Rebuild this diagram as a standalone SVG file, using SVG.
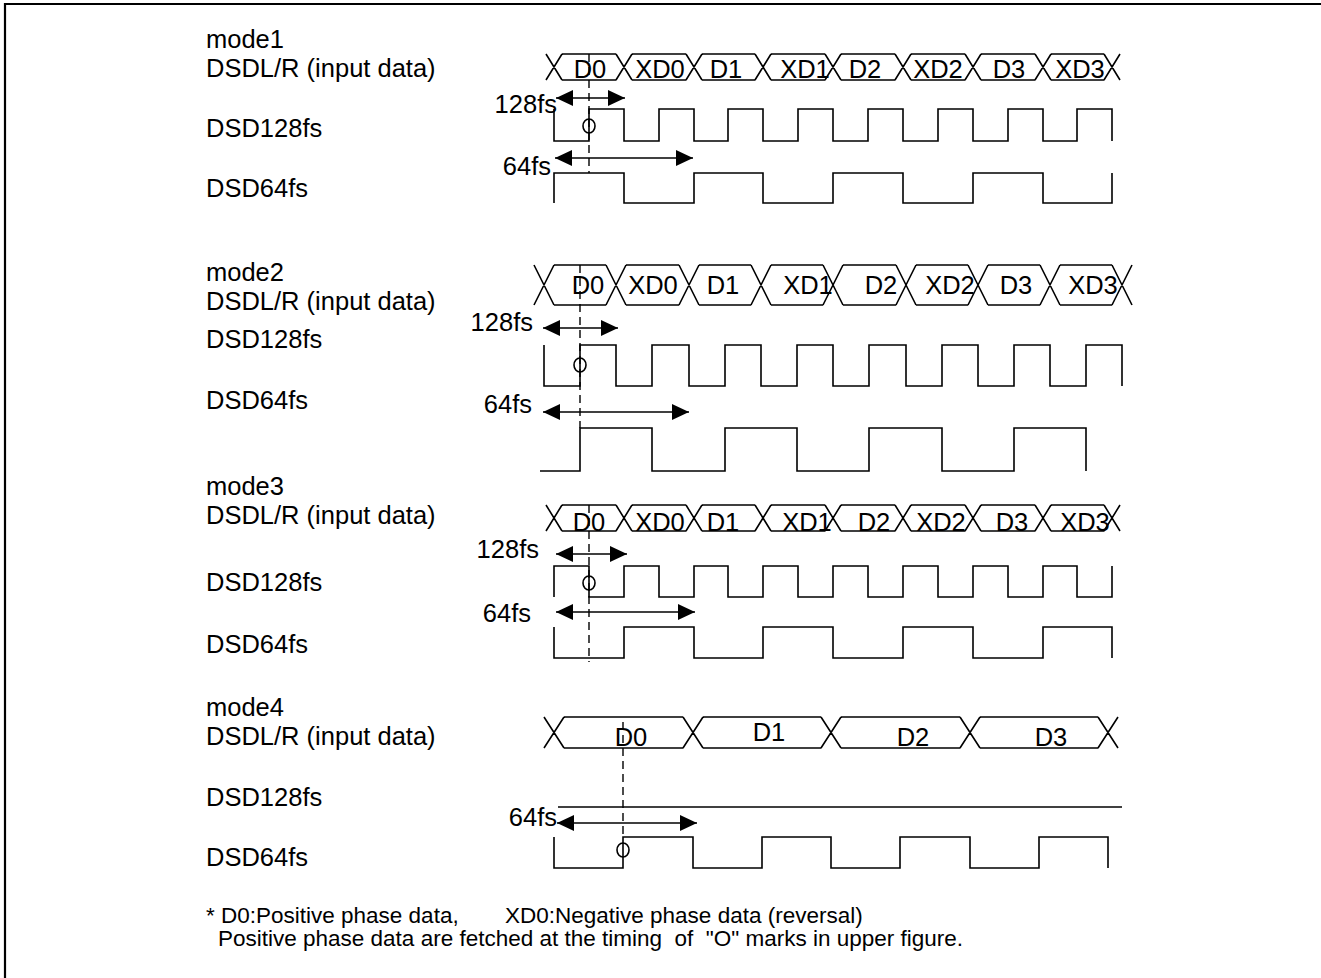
<svg xmlns="http://www.w3.org/2000/svg" width="1321" height="978" viewBox="0 0 1321 978">
<style>
text{font-family:"Liberation Sans",Arial,sans-serif;font-size:25.5px;fill:#000}
.c{text-anchor:middle}
.e{text-anchor:end}
.f{font-size:22.5px}
.w{fill:none;stroke:#000;stroke-width:1.6}
.d{fill:none;stroke:#000;stroke-width:1.4;stroke-dasharray:8 5}
.a{fill:none;stroke:#000;stroke-width:1.6;marker-start:url(#ah);marker-end:url(#ah)}
</style>
<defs>
<marker id="ah" markerUnits="userSpaceOnUse" markerWidth="19" markerHeight="18" refX="17" refY="8" orient="auto-start-reverse"><path d="M0,0L17,8L0,16z" fill="#000"/></marker>
<path id="bus13" class="w" d="M546 0L562 26M546 26L562 0M616 0L632 26M616 26L632 0M686 0L702 26M686 26L702 0M755 0L771 26M755 26L771 0M825 0L841 26M825 26L841 0M895 0L911 26M895 26L911 0M965 0L981 26M965 26L981 0M1035 0L1051 26M1035 26L1051 0M1104 0L1120 26M1104 26L1120 0M562 0H616M562 26H616M632 0H686M632 26H686M702 0H755M702 26H755M771 0H825M771 26H825M841 0H895M841 26H895M911 0H965M911 26H965M981 0H1035M981 26H1035M1051 0H1104M1051 26H1104"/>
</defs>
<rect width="1321" height="978" fill="#fff"/>
<path id="frame" d="M5 978V4H1321" fill="none" stroke="#000" stroke-width="2.2"/>

<g id="labels">
<text x="206" y="48">mode1</text>
<text x="206" y="77">DSDL/R (input data)</text>
<text x="206" y="137">DSD128fs</text>
<text x="206" y="197">DSD64fs</text>
<text x="206" y="281">mode2</text>
<text x="206" y="310">DSDL/R (input data)</text>
<text x="206" y="348">DSD128fs</text>
<text x="206" y="409">DSD64fs</text>
<text x="206" y="495">mode3</text>
<text x="206" y="524">DSDL/R (input data)</text>
<text x="206" y="591">DSD128fs</text>
<text x="206" y="653">DSD64fs</text>
<text x="206" y="716">mode4</text>
<text x="206" y="745">DSDL/R (input data)</text>
<text x="206" y="806">DSD128fs</text>
<text x="206" y="866">DSD64fs</text>
</g>

<g id="mode1">
<use href="#bus13" y="54"/>
<text class="c" x="590" y="78">D0</text><text class="c" x="660" y="78">XD0</text><text class="c" x="726" y="78">D1</text><text class="c" x="805" y="78">XD1</text><text class="c" x="865" y="78">D2</text><text class="c" x="938" y="78">XD2</text><text class="c" x="1009" y="78">D3</text><text class="c" x="1080" y="78">XD3</text>
<path class="w" d="M554 109V141H589V109H624V141H659V109H694V141H728V109H763V141H798V109H833V141H868V109H903V141H938V109H973V141H1008V109H1043V141H1077V109H1112V141"/>
<path class="w" d="M554 203V173H624V203H694V173H763V203H833V173H903V203H973V173H1043V203H1112V173"/>
<text class="e" x="557" y="113">128fs</text>
<text class="e" x="551" y="175">64fs</text>
<path class="a" d="M556 98H625"/>
<path class="a" d="M555 158H693"/>
<path class="d" d="M589 54V173"/>
<ellipse class="w" cx="589" cy="126" rx="6" ry="7"/>
</g>

<g id="mode2">
<path class="w" d="M534 265L554 305M534 305L554 265M606 265L626 305M606 305L626 265M679 265L699 305M679 305L699 265M751 265L771 305M751 305L771 265M823 265L843 305M823 305L843 265M896 265L916 305M896 305L916 265M968 265L988 305M968 305L988 265M1040 265L1060 305M1040 305L1060 265M1112 265L1132 305M1112 305L1132 265M554 265H606M554 305H606M626 265H679M626 305H679M699 265H751M699 305H751M771 265H823M771 305H823M843 265H896M843 305H896M916 265H968M916 305H968M988 265H1040M988 305H1040M1060 265H1112M1060 305H1112"/>
<text class="c" x="588" y="294">D0</text><text class="c" x="653" y="294">XD0</text><text class="c" x="723" y="294">D1</text><text class="c" x="808" y="294">XD1</text><text class="c" x="881" y="294">D2</text><text class="c" x="950" y="294">XD2</text><text class="c" x="1016" y="294">D3</text><text class="c" x="1093" y="294">XD3</text>
<path class="w" d="M544 345V386H580V345H616V386H652V345H689V386H725V345H761V386H797V345H833V386H869V345H906V386H942V345H978V386H1014V345H1050V386H1086V345H1122V386"/>
<path class="w" d="M540 471H580V428H652V471H725V428H797V471H869V428H942V471H1014V428H1086V471"/>
<text class="e" x="533" y="331">128fs</text>
<text class="e" x="532" y="413">64fs</text>
<path class="a" d="M543 328H618"/>
<path class="a" d="M543 412H689"/>
<path class="d" d="M580 265V428"/>
<ellipse class="w" cx="580" cy="365" rx="6" ry="7"/>
</g>

<g id="mode3">
<use href="#bus13" y="505"/>
<text class="c" x="589" y="531">D0</text><text class="c" x="660" y="531">XD0</text><text class="c" x="723" y="531">D1</text><text class="c" x="807" y="531">XD1</text><text class="c" x="874" y="531">D2</text><text class="c" x="941" y="531">XD2</text><text class="c" x="1012" y="531">D3</text><text class="c" x="1085" y="531">XD3</text>
<path class="w" d="M554 597V566H589V597H624V566H659V597H694V566H728V597H763V566H798V597H833V566H868V597H903V566H938V597H973V566H1008V597H1043V566H1077V597H1112V566"/>
<path class="w" d="M554 627V658H624V627H694V658H763V627H833V658H903V627H973V658H1043V627H1112V658"/>
<text class="e" x="539" y="558">128fs</text>
<text class="e" x="531" y="622">64fs</text>
<path class="a" d="M556 554H627"/>
<path class="a" d="M556 612H695"/>
<path class="d" d="M589 505V662"/>
<ellipse class="w" cx="589" cy="583" rx="6" ry="7"/>
</g>

<g id="mode4">
<path class="w" d="M544 717L564 748M544 748L564 717M683 717L703 748M683 748L703 717M821 717L841 748M821 748L841 717M960 717L980 748M960 748L980 717M1098 717L1118 748M1098 748L1118 717M564 717H683M564 748H683M703 717H821M703 748H821M841 717H960M841 748H960M980 717H1098M980 748H1098"/>
<text class="c" x="631" y="746">D0</text><text class="c" x="769" y="741">D1</text><text class="c" x="913" y="746">D2</text><text class="c" x="1051" y="746">D3</text>
<path class="w" d="M558 807H1122"/>
<path class="w" d="M554 837V868H623V837H693V868H762V837H831V868H900V837H970V868H1039V837H1108V868"/>
<text class="e" x="557" y="826">64fs</text>
<path class="a" d="M557 823H697"/>
<path class="d" d="M623 722V837"/>
<ellipse class="w" cx="623" cy="850" rx="6" ry="7"/>
</g>

<g id="footnote">
<text class="f" x="206" y="923">* D0:Positive phase data,<tspan x="505">XD0:Negative phase data (reversal)</tspan></text>
<text class="f" x="218" y="946" xml:space="preserve">Positive phase data are fetched at the timing  of  "O" marks in upper figure.</text>
</g>
</svg>
